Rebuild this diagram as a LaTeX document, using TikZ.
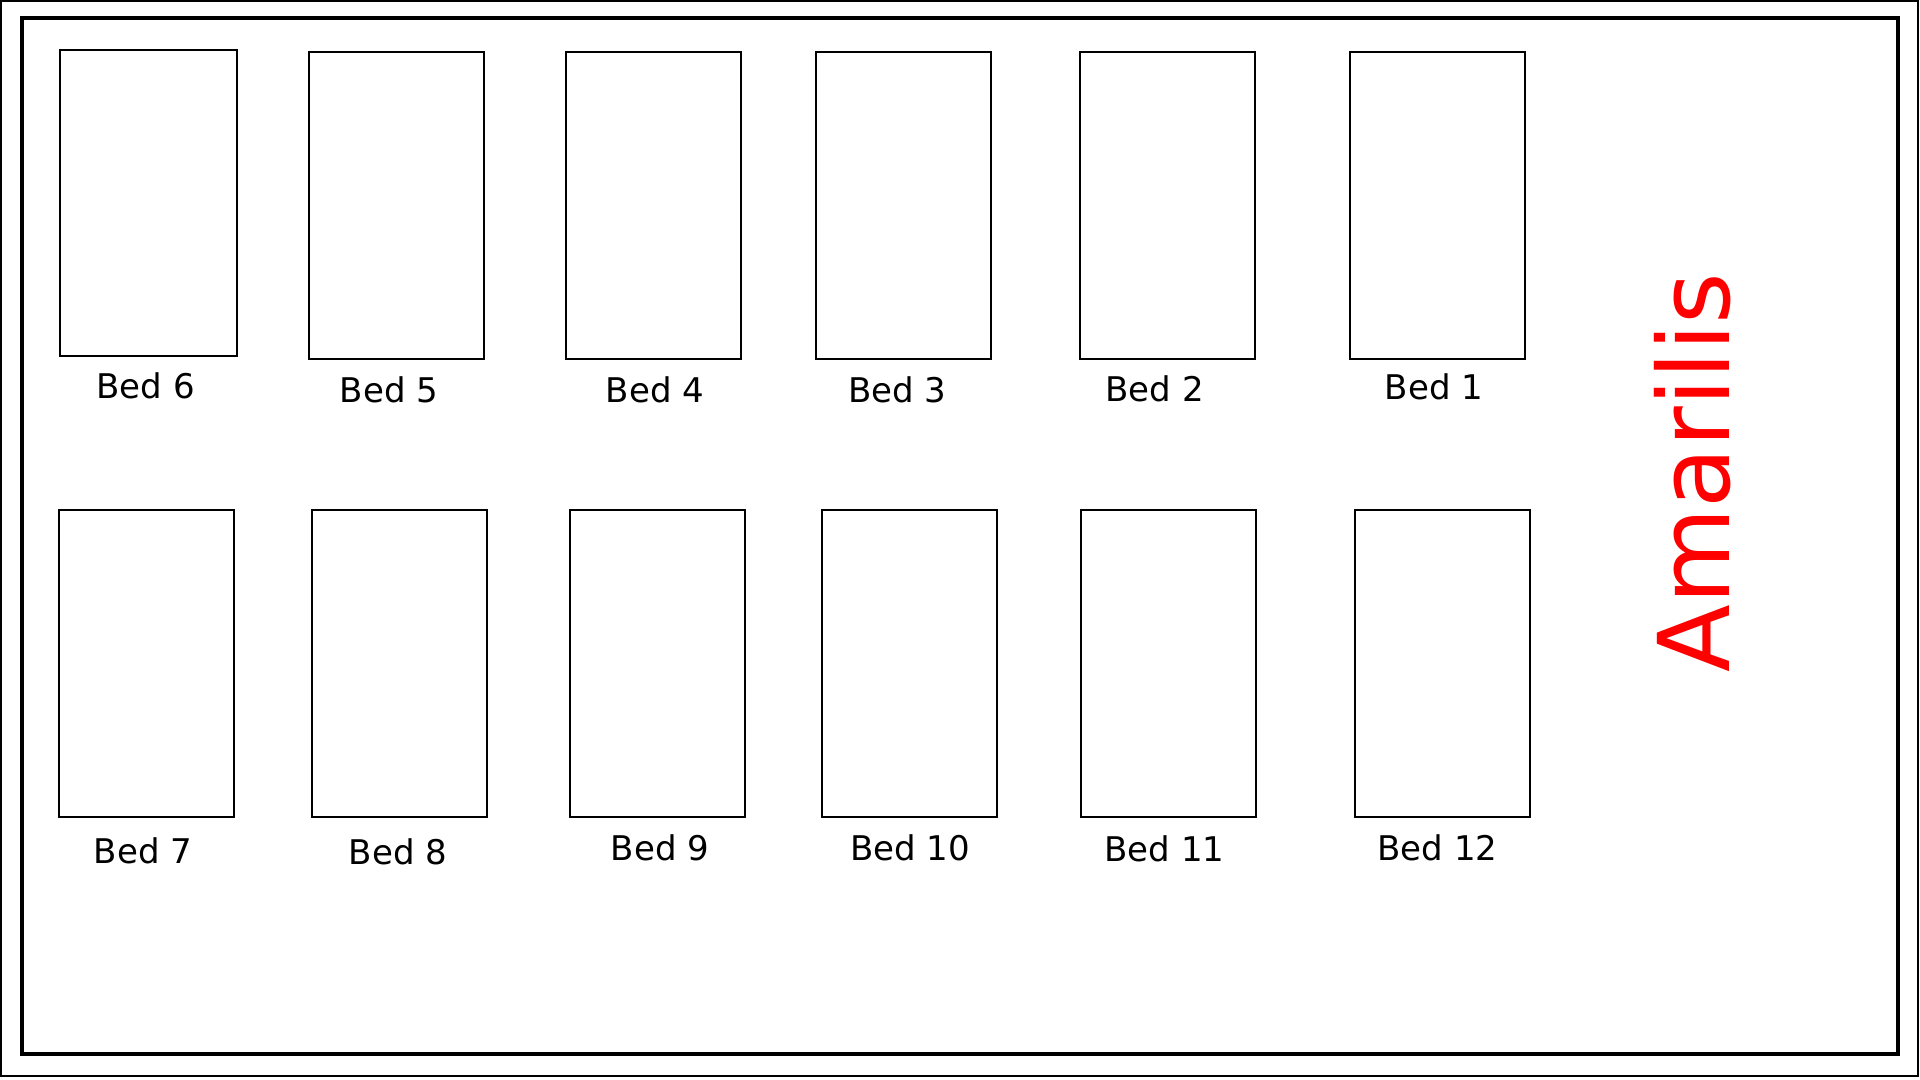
\documentclass[tikz,border=0pt]{standalone}
\usepackage{fontspec}
\setmainfont{DejaVu Sans}
\begin{document}
\begin{tikzpicture}[x=0.5pt,y=-0.5pt,
  bed/.style={draw=black,line width=1pt,inner sep=0pt,minimum width=87.5pt,minimum height=153.5pt},
  bedlabel/.style={anchor=base,inner sep=0pt,font=\fontsize{17pt}{20pt}\selectfont},
  title/.style={anchor=base,inner sep=0pt,rotate=90,text=red,font=\fontsize{49.5pt}{60pt}\selectfont}]
\useasboundingbox (0,0) rectangle (1920,1080);
\draw[line width=1pt] (1,1) rectangle (1918,1076);
\draw[line width=2pt] (22,18) rectangle (1898,1054);
% top row
\node[bed,minimum width=88.5pt,minimum height=153pt] (b6) at (148,203) {};
\node[bed] (b5) at (396,206) {};
\node[bed] (b4) at (653,206) {};
\node[bed] (b3) at (903,206) {};
\node[bed] (b2) at (1167.5,206) {};
\node[bed] (b1) at (1437.5,206) {};
% bottom row
\node[bed] (b7) at (146,663) {};
\node[bed] (b8) at (399.5,663) {};
\node[bed] (b9) at (657,663) {};
\node[bed] (b10) at (909,663) {};
\node[bed] (b11) at (1168.5,663) {};
\node[bed] (b12) at (1442,663) {};
% labels
\node[bedlabel] (l6) at (145.7,398.5) {Bed 6};
\node[bedlabel] (l5) at (389,402) {Bed 5};
\node[bedlabel] (l4) at (655,402) {Bed 4};
\node[bedlabel] (l3) at (897.5,402) {Bed 3};
\node[bedlabel] (l2) at (1154.7,401) {Bed 2};
\node[bedlabel] (l1) at (1434,400) {Bed 1};
\node[bedlabel] (l7) at (143,863) {Bed 7};
\node[bedlabel] (l8) at (398,864) {Bed 8};
\node[bedlabel] (l9) at (660,860) {Bed 9};
\node[bedlabel] (l10) at (910,860) {Bed 10};
\node[bedlabel] (l11) at (1164.5,861.5) {Bed 11};
\node[bedlabel] (l12) at (1437.6,860) {Bed 12};
\node[title] (am) at (1729,472.5) {Amarilis};
\end{tikzpicture}
\end{document}
